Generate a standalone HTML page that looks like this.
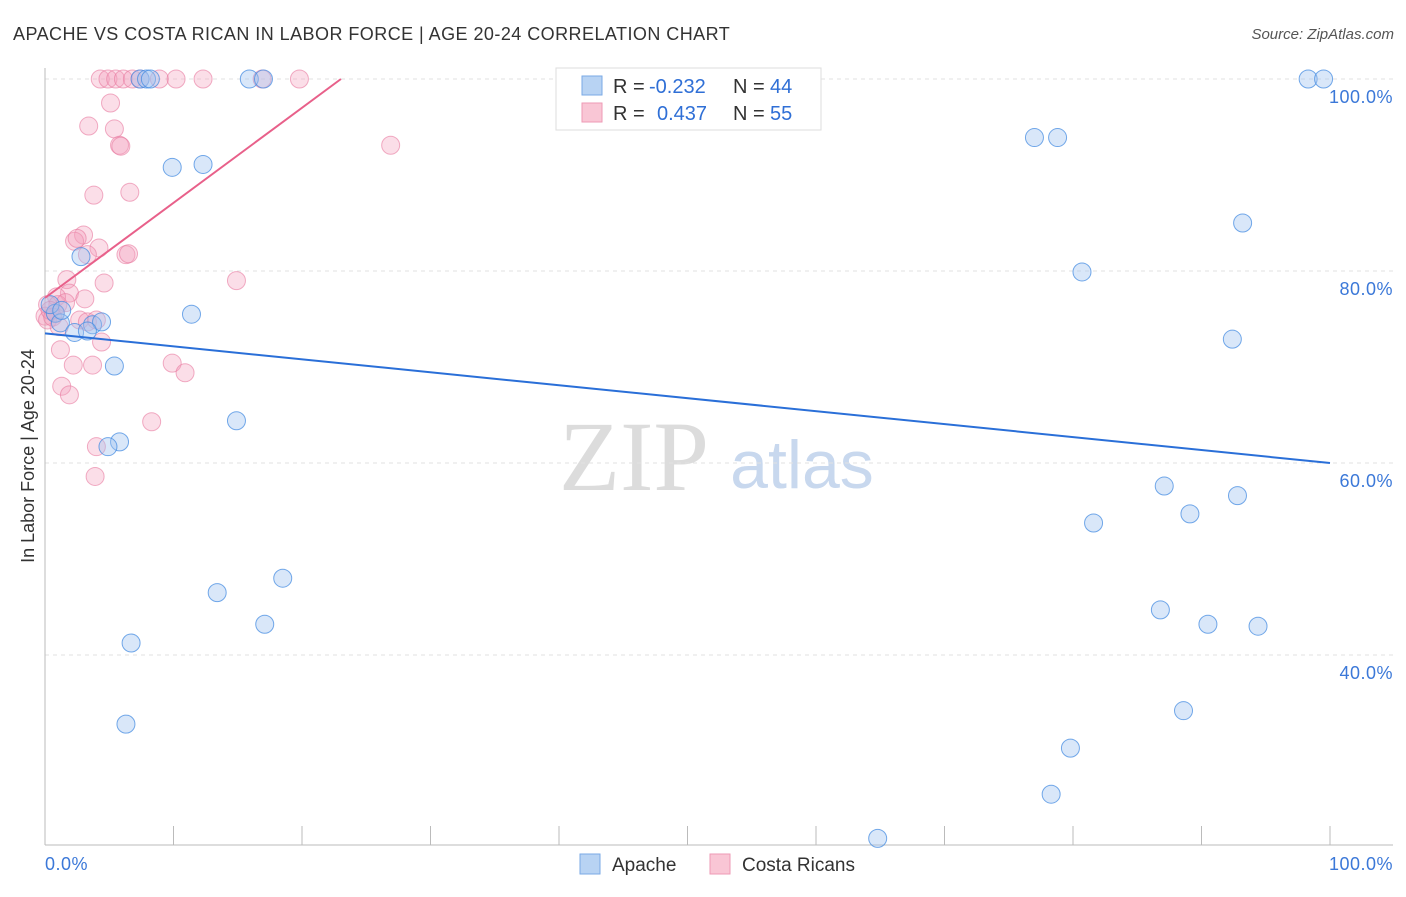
<!DOCTYPE html>
<html><head><meta charset="utf-8"><style>
body{margin:0;background:#fff;font-family:"Liberation Sans",sans-serif}
</style></head><body>
<svg id="c" width="1406" height="892" xmlns="http://www.w3.org/2000/svg" font-family="Liberation Sans, sans-serif">
<text x="13" y="40" font-size="18" fill="#333" letter-spacing="0.45">APACHE VS COSTA RICAN IN LABOR FORCE | AGE 20-24 CORRELATION CHART</text>
<text x="1394" y="39" font-size="15" fill="#555" text-anchor="end" font-style="italic">Source: ZipAtlas.com</text>
<text x="634" y="490" font-size="100" fill="#dcdcdc" style="font-family:'Liberation Serif',serif" text-anchor="middle">ZIP</text>
<text x="802" y="488" font-size="68" fill="#c8d8ee" text-anchor="middle">atlas</text>
<text transform="translate(34,456) rotate(-90)" font-size="18" fill="#333" text-anchor="middle">In Labor Force | Age 20-24</text>
<g id="grid"></g><g id="marks"></g>
<g>
<rect x="556" y="68" width="265" height="62" fill="#fff" stroke="#ddd"/>
<rect x="582" y="76" width="20" height="19" fill="#b8d3f3" stroke="#7aaae6"/>
<rect x="582" y="103" width="20" height="19" fill="#f9c6d5" stroke="#ee9ab5"/>
<text x="613" y="93" font-size="20" fill="#333">R = </text><text x="649" y="93" font-size="20" fill="#2f6fd6">-0.232</text>
<text x="733" y="93" font-size="20" fill="#333">N = </text><text x="770" y="93" font-size="20" fill="#2f6fd6">44</text>
<text x="613" y="120" font-size="20" fill="#333">R = </text><text x="657" y="120" font-size="20" fill="#2f6fd6">0.437</text>
<text x="733" y="120" font-size="20" fill="#333">N = </text><text x="770" y="120" font-size="20" fill="#2f6fd6">55</text>
</g>
<g>
<rect x="580" y="854" width="20" height="20" fill="#b8d3f3" stroke="#7aaae6"/>
<text x="612" y="871" font-size="19" fill="#333">Apache</text>
<rect x="710" y="854" width="20" height="20" fill="#f9c6d5" stroke="#ee9ab5"/>
<text x="742" y="871" font-size="19" fill="#333">Costa Ricans</text>
</g>
</svg>
<script>
const blueX=[7.4,7.9,8.2,15.9,17.0,98.3,99.5,9.9,12.3,77.0,78.8,93.2,80.7,2.8,11.4,92.4,0.8,1.2,2.3,3.7,4.4,3.3,5.4,14.9,5.8,4.9,87.1,92.8,89.1,81.6,18.5,13.4,17.1,86.8,90.5,94.4,6.7,6.3,88.6,79.8,78.3,64.8,0.4,1.3];
const blueY=[100,100,100,100,100,100,100,90.8,91.1,93.9,93.9,85.0,79.9,81.5,75.5,72.9,75.6,74.6,73.6,74.4,74.7,73.75,70.1,64.4,62.2,61.7,57.6,56.6,54.7,53.75,48.0,46.5,43.2,44.7,43.2,43.0,41.25,32.8,34.2,30.3,25.5,20.9,76.5,75.9];
const pinkX=[4.3,4.9,5.5,6.1,6.8,7.4,8.9,10.2,12.3,16.9,19.8,5.1,3.4,5.4,5.8,5.9,26.9,3.8,6.6,3.0,2.3,2.5,4.2,3.3,6.3,6.5,1.7,14.9,4.6,1.9,0.9,3.1,0.2,1.0,1.6,0,0.2,0.8,2.7,3.3,4.0,4.4,1.2,9.9,10.9,2.2,3.7,1.3,1.9,8.3,4.0,3.9,0.4,0.6,1.1];
const pinkY=[100,100,100,100,100,100,100,100,100,100,100,97.5,95.1,94.8,93.1,93.0,93.1,87.9,88.2,83.75,83.1,83.4,82.4,81.7,81.7,81.8,79.1,79.0,78.75,77.7,77.3,77.1,76.5,76.5,76.7,75.3,74.9,75.6,74.9,74.7,74.9,72.6,71.8,70.4,69.4,70.2,70.2,68.0,67.1,64.3,61.7,58.6,75.9,75.2,74.2];
const blueTrend=[73.5,60.0];
const pinkTrend=[77.2,0.99];
const yTicks=[100,80,60,40];
const xTickLabels=["0.0%","100.0%"];
const NS="http://www.w3.org/2000/svg";
const X=v=>45+v*12.85, Y=v=>79+(100-v)*9.6;
const grid=document.getElementById('grid'), marks=document.getElementById('marks');
function mk(tag,attrs,parent){const e=document.createElementNS(NS,tag);for(const k in attrs)e.setAttribute(k,attrs[k]);parent.appendChild(e);return e;}
yTicks.forEach(t=>{
 const l=mk('line',{x1:45,x2:1393,y1:Y(t),y2:Y(t),stroke:'#e2e2e2','stroke-dasharray':'4,4'},grid);
 
 
 const tx=mk('text',{x:1393,y:Y(t)+24,'font-size':18,fill:'#3b78d8','text-anchor':'end','letter-spacing':'0.5'},grid);
 tx.textContent=t.toFixed(1)+'%';
 
 
});
const ax=mk('line',{x1:45,x2:1393,y1:845,y2:845,stroke:'#bbb'},grid);


const ay=mk('line',{x1:45,x2:45,y1:68,y2:845,stroke:'#bbb'},grid);


for(let i=0;i<=10;i++){const t=mk('line',{x1:X(i*10),x2:X(i*10),y1:826,y2:845,stroke:'#bbb'},grid);
 
 }
const xl0=mk('text',{x:45,y:870,'font-size':18,fill:'#3b78d8','letter-spacing':'0.5'},grid);xl0.textContent=xTickLabels[0];


const xl1=mk('text',{x:1393,y:870,'font-size':18,fill:'#3b78d8','text-anchor':'end','letter-spacing':'0.5'},grid);xl1.textContent=xTickLabels[1];


pinkX.forEach((v,i)=>{const c=mk('circle',{cx:X(v),cy:Y(pinkY[i]),r:9,fill:'rgba(244,160,188,0.35)',stroke:'rgba(232,120,158,0.6)'},marks);
 
 });
blueX.forEach((v,i)=>{const c=mk('circle',{cx:X(v),cy:Y(blueY[i]),r:9,fill:'rgba(160,196,240,0.4)',stroke:'rgba(70,140,225,0.75)'},marks);
 
 });
const bt=mk('line',{x1:X(0),y1:Y(blueTrend[0]),x2:X(100),y2:Y(blueTrend[1]),stroke:'#2a6fd8','stroke-width':2},marks);


const pxEnd=(100-pinkTrend[0])/pinkTrend[1];
const pt=mk('line',{x1:X(0),y1:Y(pinkTrend[0]),x2:X(pxEnd),y2:Y(100),stroke:'#e8608a','stroke-width':2},marks);


</script>
</body></html>
